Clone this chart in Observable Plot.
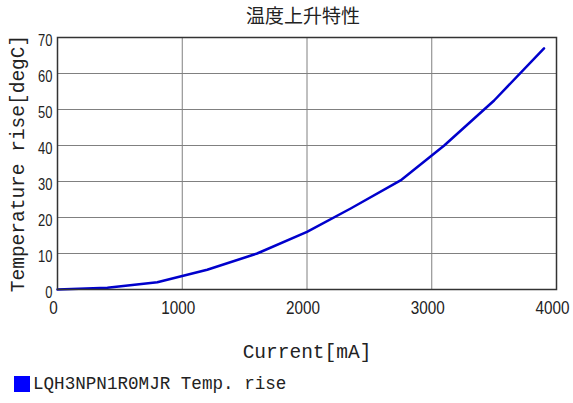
<!DOCTYPE html>
<html>
<head>
<meta charset="utf-8">
<script src="https://cdn.jsdelivr.net/npm/d3@7"></script>
<script src="https://cdn.jsdelivr.net/npm/@observablehq/plot@0.6"></script>
<style>
  html, body { margin: 0; padding: 0; background: #fff; }
  #title { height: 30px; line-height: 30px; font-family: "Noto Sans CJK JP", sans-serif; font-size: 19px; color: #222; text-align: center; width: 573px; padding-left: 33px; box-sizing: border-box; }
  #legend { display: flex; align-items: center; margin-left: 14px; margin-top: 4px; font-family: "Liberation Mono", "DejaVu Sans Mono", monospace; font-size: 17.6px; color: #222; }
  #legend .sw { width: 16px; height: 16px; background: #0000ff; margin-right: 3px; }
</style>
</head>
<body>
<div id="title">温度上升特性</div>
<div id="chart"></div>
<div id="legend"><span class="sw"></span><span id="legendText"></span></div>
<script>
const currents = [0, 400, 800, 1200, 1600, 2000, 2350, 2750, 3100, 3500, 3900];
const temps = [0, 0.5, 2, 5.5, 10, 16, 22.5, 30.3, 40, 52.5, 67];
const xTicks = [0, 1000, 2000, 3000, 4000];
const yTicks = [0, 10, 20, 30, 40, 50, 60, 70];
const seriesName = "LQH3NPN1R0MJR Temp. rise";

const data = currents.map((c, i) => ({current: c, temp: temps[i]}));
document.getElementById("legendText").textContent = seriesName;

const tickFont = '"Liberation Sans", Arial, sans-serif';
const monoFont = '"Liberation Mono", "DejaVu Sans Mono", monospace';

const chart = Plot.plot({
  width: 573,
  height: 340,
  marginLeft: 57,
  marginRight: 17,
  marginTop: 7,
  marginBottom: 81,
  style: { fontFamily: tickFont, fontSize: "16px", color: "#222", background: "#fff" },
  x: { domain: [0, 4000] },
  y: { domain: [0, 70] },
  marks: [
    Plot.gridX(xTicks, { stroke: "#808080", strokeOpacity: 1 }),
    Plot.gridY(yTicks, { stroke: "#808080", strokeOpacity: 1 }),
    Plot.axisX({ ticks: xTicks, tickFormat: d3.format("d"), tickSize: 0, tickPadding: 12, fontSize: 17.5, dx: -4,
      label: "Current[mA]", labelAnchor: "center", labelArrow: "none", labelOffset: 68 }),
    Plot.axisY({ ticks: yTicks, tickFormat: d3.format("d"), tickSize: 0, tickPadding: 5, fontSize: 16.3, dy: 3,
      label: "Temperature rise[degC]", labelAnchor: "center", labelArrow: "none", labelOffset: 47 }),
    Plot.line(data, { x: "current", y: "temp", stroke: "#0000cc", strokeWidth: 2.5 }),
    Plot.frame({ stroke: "#333", strokeWidth: 1.5 })
  ]
});

// narrow the tick labels horizontally without moving them
function narrow(sel, perChar) {
  sel.each(function() {
    const n = this.textContent.length;
    this.setAttribute("textLength", n * perChar);
    this.setAttribute("lengthAdjust", "spacingAndGlyphs");
  });
}

const root = d3.select(chart);
narrow(root.selectAll("g[aria-label='x-axis tick label'] text"), 8.5);
narrow(root.selectAll("g[aria-label='y-axis tick label'] text"), 7.2);
root.selectAll("g[aria-label='x-axis label'] text, g[aria-label='y-axis label'] text")
  .style("font-family", monoFont).style("font-size", "19.5px");

document.getElementById("chart").appendChild(chart);
</script>
</body>
</html>
